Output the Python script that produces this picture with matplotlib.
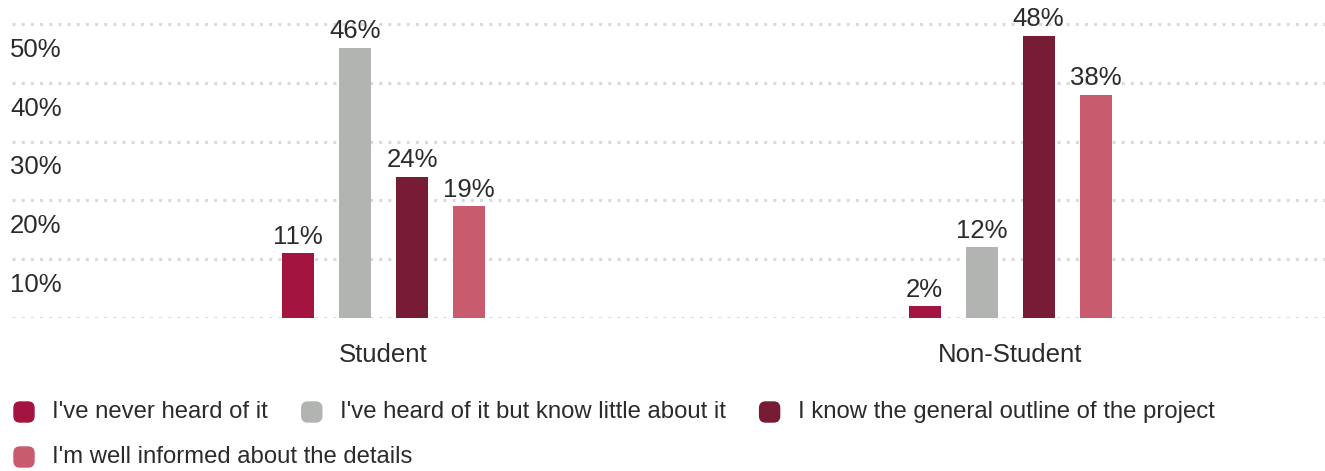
import matplotlib
matplotlib.use("Agg")
import matplotlib.pyplot as plt
from matplotlib.patches import FancyBboxPatch

# data
groups = ["Student", "Non-Student"]
series = [
    "I've never heard of it",
    "I've heard of it but know little about it",
    "I know the general outline of the project",
    "I'm well informed about the details",
]
student = [11, 46, 24, 19]
non_student = [2, 12, 48, 38]
colors = ["#a41441", "#b2b4b1", "#781b34", "#c85b6e"]
ticks = [10, 20, 30, 40, 50]

plt.rcParams['font.family'] = ['Liberation Sans', 'DejaVu Sans']
txt = "#2b2b2b"
W, H = 1325, 471
fig = plt.figure(figsize=(W / 100, H / 100), dpi=100)

# axes in pixel terms: baseline at y=318, 10% = 58.8 px
px_per_pct = 5.88
base = 318
ax = fig.add_axes([12 / W, 1 - base / H, 1 - 12 / W, base / H])
ax.set_xlim(12, W)
ax.set_ylim(0, base / px_per_pct)
ax.axis("off")

# dotted gridlines
for v in [0] + ticks:
    ax.axhline(v, color="#dadada", lw=2.2, linestyle=(0, (1.0, 2.0)), zorder=0)

group_centers = [383.5, 1010]
offsets = [-85.5, -28.5, 28.5, 85.5]
bw = 32
for g, (gc, vals) in enumerate(zip(group_centers, [student, non_student])):
    for i, v in enumerate(vals):
        x = gc + offsets[i]
        ax.bar(x, v, width=bw, color=colors[i], zorder=2)
        ax.annotate(f"{v}%", (x, v), xytext=(0, 7), textcoords="offset points",
                    ha="center", va="baseline", fontsize=18.5, color=txt)
    ax.text(gc, -6.3, groups[g], ha="center", va="center",
            fontsize=18.5, color=txt, clip_on=False)

# y tick labels sit below their gridlines
for t in ticks:
    fig.text(10 / W, 1 - (base - (t - 4.4) * px_per_pct) / H, f"{t}%",
             ha="left", va="center", fontsize=18.5, color=txt)

# legend, flowed left to right
renderer = fig.canvas.get_renderer()
rows = [412, 457]
x, row = 14, 0
for i, name in enumerate(series):
    if i == 3:
        x, row = 14, 1
    yc = rows[row]
    fig.add_artist(FancyBboxPatch((x / W, (H - yc - 10) / H), 20 / W, 20 / H,
                                  boxstyle="round,pad=0,rounding_size=0.0045",
                                  mutation_aspect=W / H,
                                  transform=fig.transFigure, color=colors[i]))
    t = fig.text((x + 38) / W, (H - yc) / H, name, ha="left", va="center",
                 fontsize=17.2, color=txt)
    bb = t.get_window_extent(renderer)
    x = bb.x1 + 34

fig.savefig("out.png", dpi=100)
